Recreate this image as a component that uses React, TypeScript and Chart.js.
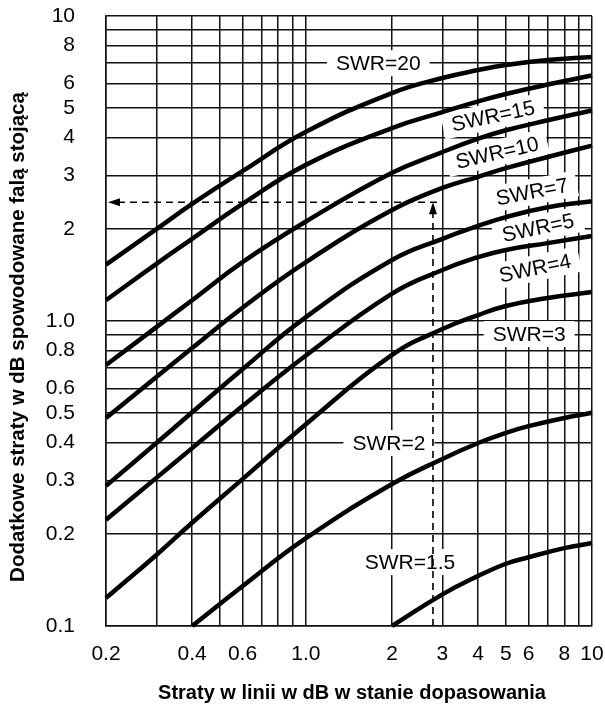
import React, { useEffect, useRef } from 'react';
import { Chart, registerables } from 'chart.js';

Chart.register(...registerables);

// Line loss when matched (dB) – sample positions for the curves
const LOSS_DB = [0.2, 0.3, 0.4, 0.6, 1, 2, 3, 4, 5, 7, 10];
// Additional loss caused by standing wave (dB) for each SWR
const SWR20 = [1.53, 2.0, 2.42, 3.1, 4.17, 5.59, 6.26, 6.65, 6.91, 7.17, 7.34];
const SWR15 = [1.17, 1.54, 1.86, 2.42, 3.25, 4.29, 4.84, 5.25, 5.55, 5.96, 6.38];
const SWR10 = [0.717, 0.955, 1.17, 1.56, 2.12, 3.06, 3.58, 3.96, 4.22, 4.55, 4.9];
const SWR7 = [0.481, 0.655, 0.815, 1.105, 1.56, 2.31, 2.73, 2.97, 3.17, 3.45, 3.76];
const SWR5 = [0.288, 0.398, 0.502, 0.695, 1.03, 1.585, 1.86, 2.05, 2.19, 2.36, 2.47];
const SWR4 = [0.223, 0.306, 0.383, 0.526, 0.771, 1.23, 1.47, 1.62, 1.71, 1.8, 1.9];
const SWR3 = [0.1235, 0.171, 0.218, 0.303, 0.459, 0.774, 0.941, 1.046, 1.12, 1.19, 1.245];
const SWR2_LOSS = [0.4, 0.6, 1, 2, 3, 4, 5, 6, 8, 10];
const SWR2 = [0.1, 0.135, 0.194, 0.292, 0.353, 0.398, 0.43, 0.452, 0.481, 0.5];
const SWR1_5_LOSS = [2, 3, 4, 5, 6, 8, 10];
const SWR1_5 = [0.1, 0.127, 0.146, 0.16, 0.168, 0.18, 0.187];

// Grid / tick values
const X_GRID = [0.2, 0.3, 0.4, 0.5, 0.6, 0.7, 0.8, 0.9, 1, 2, 3, 4, 5, 6, 7, 8, 9, 10];
const X_TICK_LABELS: Record<string, string> = {
  '0.2': '0.2', '0.4': '0.4', '0.6': '0.6', '1': '1.0', '2': '2', '3': '3',
  '4': '4', '5': '5', '6': '6', '8': '8', '10': '10',
};
const Y_GRID = [0.1, 0.2, 0.3, 0.4, 0.5, 0.6, 0.7, 0.8, 0.9, 1, 2, 3, 4, 5, 6, 7, 8, 9, 10];
const Y_TICK_LABELS: Record<string, string> = {
  '0.1': '0.1', '0.2': '0.2', '0.3': '0.3', '0.4': '0.4', '0.5': '0.5', '0.6': '0.6',
  '0.8': '0.8', '1': '1.0', '2': '2', '3': '3', '4': '4', '5': '5', '6': '6', '8': '8', '10': '10',
};

// Curve labels (placed in data coordinates)
const NOTE_TEXT = ['SWR=20', 'SWR=15', 'SWR=10', 'SWR=7', 'SWR=5', 'SWR=4', 'SWR=3', 'SWR=2', 'SWR=1.5'];
const NOTE_X = [1.79, 4.51, 4.66, 6.17, 6.48, 6.32, 6.03, 1.95, 2.31];
const NOTE_Y = [7.0, 4.7, 3.56, 2.65, 2.02, 1.49, 0.906, 0.398, 0.162];
const NOTE_ANGLE = [0, -12, -13, -11, -12, -12, 0, 0, 0];

// Worked example (dashed arrows)
const EXAMPLE_LOSS = 2.78;
const EXAMPLE_EXTRA = 2.45;

const X_TITLE = 'Straty w linii w dB w stanie dopasowania';
const Y_TITLE = 'Dodatkowe straty w dB spowodowane falą stojącą';

const FONT = '"Liberation Sans", Arial, Helvetica, sans-serif';

const toPts = (xs: number[], ys: number[]) => xs.map((x, i) => ({ x, y: ys[i] }));

const zeroPadding = (s: any) => {
  s.paddingTop = 0;
  s.paddingBottom = 0;
  s.paddingLeft = 0;
  s.paddingRight = 0;
};

const annotations = {
  id: 'annotations',
  beforeDatasetsDraw(chart: any) {
    const { ctx } = chart;
    const xs = chart.scales.x;
    const ys = chart.scales.y;
    ctx.save();
    ctx.font = `21px ${FONT}`;
    ctx.textAlign = 'center';
    ctx.textBaseline = 'middle';
    NOTE_TEXT.forEach((t, i) => {
      const px = xs.getPixelForValue(NOTE_X[i]);
      const py = ys.getPixelForValue(NOTE_Y[i]);
      ctx.save();
      ctx.translate(px, py);
      ctx.rotate((NOTE_ANGLE[i] * Math.PI) / 180);
      const w = ctx.measureText(t).width;
      ctx.fillStyle = '#ffffff';
      ctx.fillRect(-w / 2 - 9, -13, w + 18, 26);
      ctx.fillStyle = '#000000';
      ctx.fillText(t, 0, 1);
      ctx.restore();
    });
    ctx.restore();
  },
  afterDatasetsDraw(chart: any) {
    const { ctx, chartArea } = chart;
    const xs = chart.scales.x;
    const ys = chart.scales.y;
    const ex = xs.getPixelForValue(EXAMPLE_LOSS);
    const ey = ys.getPixelForValue(EXAMPLE_EXTRA);
    ctx.save();
    ctx.strokeStyle = '#000';
    ctx.lineWidth = 1.6;
    ctx.setLineDash([7, 5]);
    ctx.beginPath();
    ctx.moveTo(ex, chartArea.bottom);
    ctx.lineTo(ex, ey + 10);
    ctx.moveTo(ex + 4, ey);
    ctx.lineTo(chartArea.left + 12, ey);
    ctx.stroke();
    ctx.setLineDash([]);
    ctx.fillStyle = '#000';
    ctx.beginPath();
    ctx.moveTo(ex, ey);
    ctx.lineTo(ex - 4, ey + 12);
    ctx.lineTo(ex + 4, ey + 12);
    ctx.closePath();
    ctx.fill();
    ctx.beginPath();
    ctx.moveTo(chartArea.left + 2, ey);
    ctx.lineTo(chartArea.left + 14, ey - 4);
    ctx.lineTo(chartArea.left + 14, ey + 4);
    ctx.closePath();
    ctx.fill();
    ctx.restore();
  },
  afterDraw(chart: any) {
    const { ctx } = chart;
    ctx.save();
    ctx.fillStyle = '#000';
    ctx.font = `bold 20px ${FONT}`;
    ctx.textAlign = 'center';
    ctx.textBaseline = 'middle';
    ctx.fillText(X_TITLE, 352, 693);
    ctx.translate(18, 337);
    ctx.rotate(-Math.PI / 2);
    ctx.font = `bold 20.5px ${FONT}`;
    ctx.fillText(Y_TITLE, 0, 0);
    ctx.restore();
  },
};

export default function App() {
  const ref = useRef<HTMLCanvasElement | null>(null);

  useEffect(() => {
    if (!ref.current) return;
    const series = [
      toPts(LOSS_DB, SWR20),
      toPts(LOSS_DB, SWR15),
      toPts(LOSS_DB, SWR10),
      toPts(LOSS_DB, SWR7),
      toPts(LOSS_DB, SWR5),
      toPts(LOSS_DB, SWR4),
      toPts(LOSS_DB, SWR3),
      toPts(SWR2_LOSS, SWR2),
      toPts(SWR1_5_LOSS, SWR1_5),
    ];
    const gridColor = '#111';
    const chart = new Chart(ref.current, {
      type: 'line',
      data: {
        datasets: series.map((d, i) => ({
          label: NOTE_TEXT[i],
          data: d,
          borderColor: '#000',
          borderWidth: 4.5,
          pointRadius: 0,
          tension: 0.45,
          fill: false,
          clip: 4,
        })),
      },
      options: {
        responsive: false,
        animation: false,
        devicePixelRatio: 1,
        layout: { autoPadding: false, padding: { left: 0, right: 13, top: 16, bottom: 0 } },
        plugins: { legend: { display: false }, tooltip: { enabled: false } },
        scales: {
          x: {
            type: 'logarithmic',
            min: 0.2,
            max: 10,
            afterBuildTicks: (s: any) => {
              s.ticks = X_GRID.map((v) => ({ value: v }));
            },
            afterFit: (s: any) => {
              s.height = 80;
              zeroPadding(s);
            },
            grid: { color: gridColor, lineWidth: 1.5, drawTicks: false },
            border: { color: gridColor, width: 1.5 },
            ticks: {
              autoSkip: false,
              maxRotation: 0,
              padding: 16,
              color: '#000',
              font: { size: 21, family: FONT },
              callback: (v: any) => X_TICK_LABELS[String(v)] ?? '',
            },
          },
          y: {
            type: 'logarithmic',
            min: 0.1,
            max: 10,
            afterBuildTicks: (s: any) => {
              s.ticks = Y_GRID.map((v) => ({ value: v }));
            },
            afterFit: (s: any) => {
              s.width = 106;
              zeroPadding(s);
            },
            grid: { color: gridColor, lineWidth: 1.5, drawTicks: false },
            border: { color: gridColor, width: 1.5 },
            ticks: {
              autoSkip: false,
              padding: 31,
              color: '#000',
              font: { size: 21, family: FONT },
              callback: (v: any) => Y_TICK_LABELS[String(v)] ?? '',
            },
          },
        },
      },
      plugins: [annotations],
    });
    return () => chart.destroy();
  }, []);

  return (
    <div style={{ position: 'fixed', left: 0, top: 0, width: 605, height: 706, background: '#fff' }}>
      <canvas ref={ref} width={605} height={706} style={{ width: 605, height: 706, display: 'block' }} />
    </div>
  );
}
